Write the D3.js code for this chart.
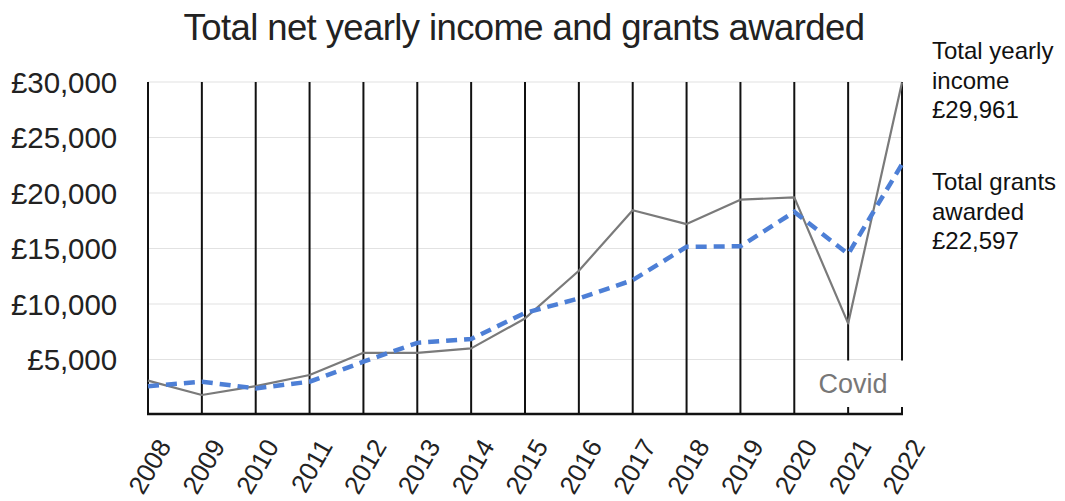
<!DOCTYPE html>
<html><head><meta charset="utf-8">
<script src="https://cdn.jsdelivr.net/npm/d3@7"></script>
<style>body{margin:0;background:#fff;} svg{display:block;font-family:"Liberation Sans",Arial,sans-serif;}</style>
</head><body>
<svg id="c" width="1065" height="501"></svg>
<script>
const years = [2008,2009,2010,2011,2012,2013,2014,2015,2016,2017,2018,2019,2020,2021,2022];
const income = [3100,1800,2600,3600,5600,5600,6000,8700,13000,18450,17200,19400,19600,8250,29961];
const grants = [2600,3000,2400,3000,4800,6500,6850,9200,10500,12150,15150,15200,18300,14500,22597];
const yTicks = [5000,10000,15000,20000,25000,30000];
const title = "Total net yearly income and grants awarded";
const incomeLabel = ["Total yearly","income","£29,961"];
const grantsLabel = ["Total grants","awarded","£22,597"];
const covidLabel = "Covid";

const svg = d3.select("#c");
const x = d3.scalePoint().domain(years).range([148, 902]);
const y = d3.scaleLinear().domain([0, 30000]).range([415, 82]);

// title
svg.append("text").attr("x", 524).attr("y", 40).attr("text-anchor","middle")
  .attr("font-size", 36.5).attr("fill","#222").attr("letter-spacing", -0.6).text(title);

// horizontal gridlines
svg.append("g").selectAll("line").data(yTicks).join("line")
  .attr("x1", 148).attr("x2", 902).attr("y1", d=>y(d)).attr("y2", d=>y(d))
  .attr("stroke", "#e2e2e2").attr("stroke-width", 1.2);

// y axis labels
const fmt = d => "£" + d3.format(",")(d);
svg.append("g").selectAll("text").data(yTicks).join("text")
  .attr("x", 117).attr("y", d=>y(d)+10.5).attr("text-anchor","end")
  .attr("font-size", 29.5).attr("fill","#222").attr("letter-spacing", -0.1).text(fmt);

// vertical lines (x axis grid)
svg.append("g").selectAll("line").data(years).join("line")
  .attr("x1", d=>x(d)).attr("x2", d=>x(d)).attr("y1", y(30000)).attr("y2", 414)
  .attr("stroke", "#111").attr("stroke-width", 2);

// baseline
svg.append("line").attr("x1", 147).attr("x2", 903).attr("y1", 414).attr("y2", 414)
  .attr("stroke", "#111").attr("stroke-width", 2.5);

// Covid box
svg.append("rect").attr("x", x(2020)+4).attr("y", y(5000)+1).attr("width", x(2022)-x(2020)+2).attr("height", 406 - y(5000))
  .attr("fill", "#fff");
svg.append("text").attr("x", 853).attr("y", 393).attr("text-anchor","middle")
  .attr("font-size", 27).attr("fill","#777").text(covidLabel);

// lines
const line = d3.line().x((d,i)=>x(years[i])).y(d=>y(d));
svg.append("path").datum(income).attr("d", line).attr("fill","none")
  .attr("stroke","#7a7a7a").attr("stroke-width", 2.2).attr("stroke-linejoin","round");
svg.append("path").datum(grants).attr("d", line).attr("fill","none")
  .attr("stroke","#4d7fd6").attr("stroke-width", 4.5).attr("stroke-dasharray","11,7");

// x labels
svg.append("g").selectAll("text").data(years).join("text")
  .attr("transform", d=>`translate(${x(d)+24},${446}) rotate(-60)`)
  .attr("text-anchor","end").attr("font-size", 26).attr("fill","#222").text(d=>d);

// right annotations
function annot(lines, y0){
  svg.append("g").selectAll("text").data(lines).join("text")
    .attr("x", 932).attr("y", (d,i)=>y0 + i*29.5).attr("font-size", 24).attr("fill","#111").text(d=>d);
}
annot(incomeLabel, 59);
annot(grantsLabel, 190);
</script>
</body></html>
